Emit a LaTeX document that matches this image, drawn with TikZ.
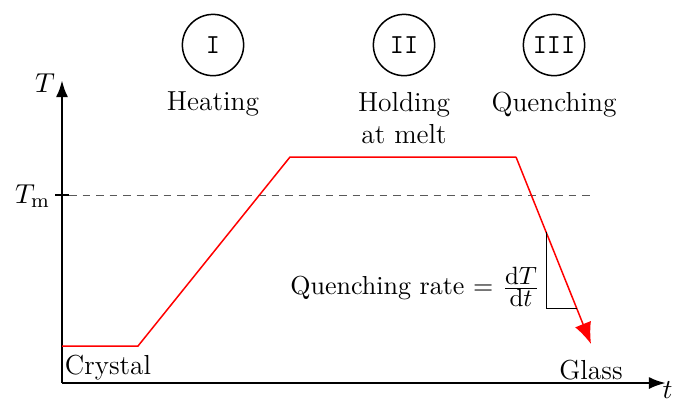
\documentclass[tikz,border=0pt]{standalone}
\usepackage{amsmath}
\usetikzlibrary{arrows.meta, positioning}

\begin{document}
\begin{tikzpicture}[
    x=0.4pt, y=-0.4pt,
    node distance=0.2cm,
    axis/.style={-{Latex[length=2.4mm, width=1.7mm]}, line width=1.1pt},
    curve/.style={red, line width=0.6pt},
    stage/.style={circle, draw, line width=0.6pt, minimum size=24.5pt, inner sep=0pt, font=\ttfamily\fontsize{11}{13}\selectfont},
    lbl/.style={font=\fontsize{11}{13}\selectfont, align=center, inner sep=1pt},
]
\useasboundingbox (0,0) rectangle (677,403);

% Axes
\coordinate (o) at (62,383);
\coordinate (ytop) at (62,80);
\coordinate (xend) at (666,383);
\draw[axis] (o) -- (ytop);
\draw[axis] (o) -- (xend);
\node[lbl, anchor=east] (ylab) at (58,83) {$T$};
\node[lbl, anchor=north east, inner sep=0pt] (xlab) at (673,381) {$t$};

% Melting temperature
\coordinate (tm0) at (55,195);
\coordinate (tm1) at (69,195);
\coordinate (tm2) at (595,195);
\draw[line width=0.8pt] (tm0) -- (tm1);
\draw[gray!70!black, dash pattern=on 3pt off 2.4pt, line width=0.4pt] (tm1) -- (tm2);
\node[lbl, anchor=east] (tm) at (53,196) {$T_{\mathrm{m}}$};

% Thermal history
\coordinate (p0) at (62,346);
\coordinate (p1) at (138,346);
\coordinate (p2) at (290,157);
\coordinate (p3) at (516,157);
\coordinate (p4) at (591,344);
\draw[curve] (p0) -- (p1) -- (p2) -- (p3);
\draw[curve, -{Latex[length=3mm, width=2.4mm]}] (p3) -- (p4);

% Slope triangle
\coordinate (s0) at (546.5,232);
\coordinate (s1) at (546.5,308);
\coordinate (s2) at (577,308);
\draw[line width=0.4pt] (s0) -- (s1) -- (s2);
\node[lbl, anchor=east, font=\fontsize{10.4}{12}\selectfont] (rate) at (543,287) {Quenching rate = $\frac{\textstyle\mathrm{d}T}{\textstyle\mathrm{d}t}$};

% Stages
\node[stage] (c1) at (213,45) {I};
\node[stage] (c2) at (404,45) {II};
\node[stage] (c3) at (554,45) {III};
\node[lbl, anchor=north] (heat) at (213,89) {Heating};
\node[lbl, anchor=north] (hold) at (404,89) {Holding\\at melt};
\node[lbl, anchor=north] (quench) at (554,89) {Quenching};

% Phases
\node[lbl] (crystal) at (108,368) {Crystal};
\node[lbl] (glass) at (591,370) {Glass};

\end{tikzpicture}
\end{document}
